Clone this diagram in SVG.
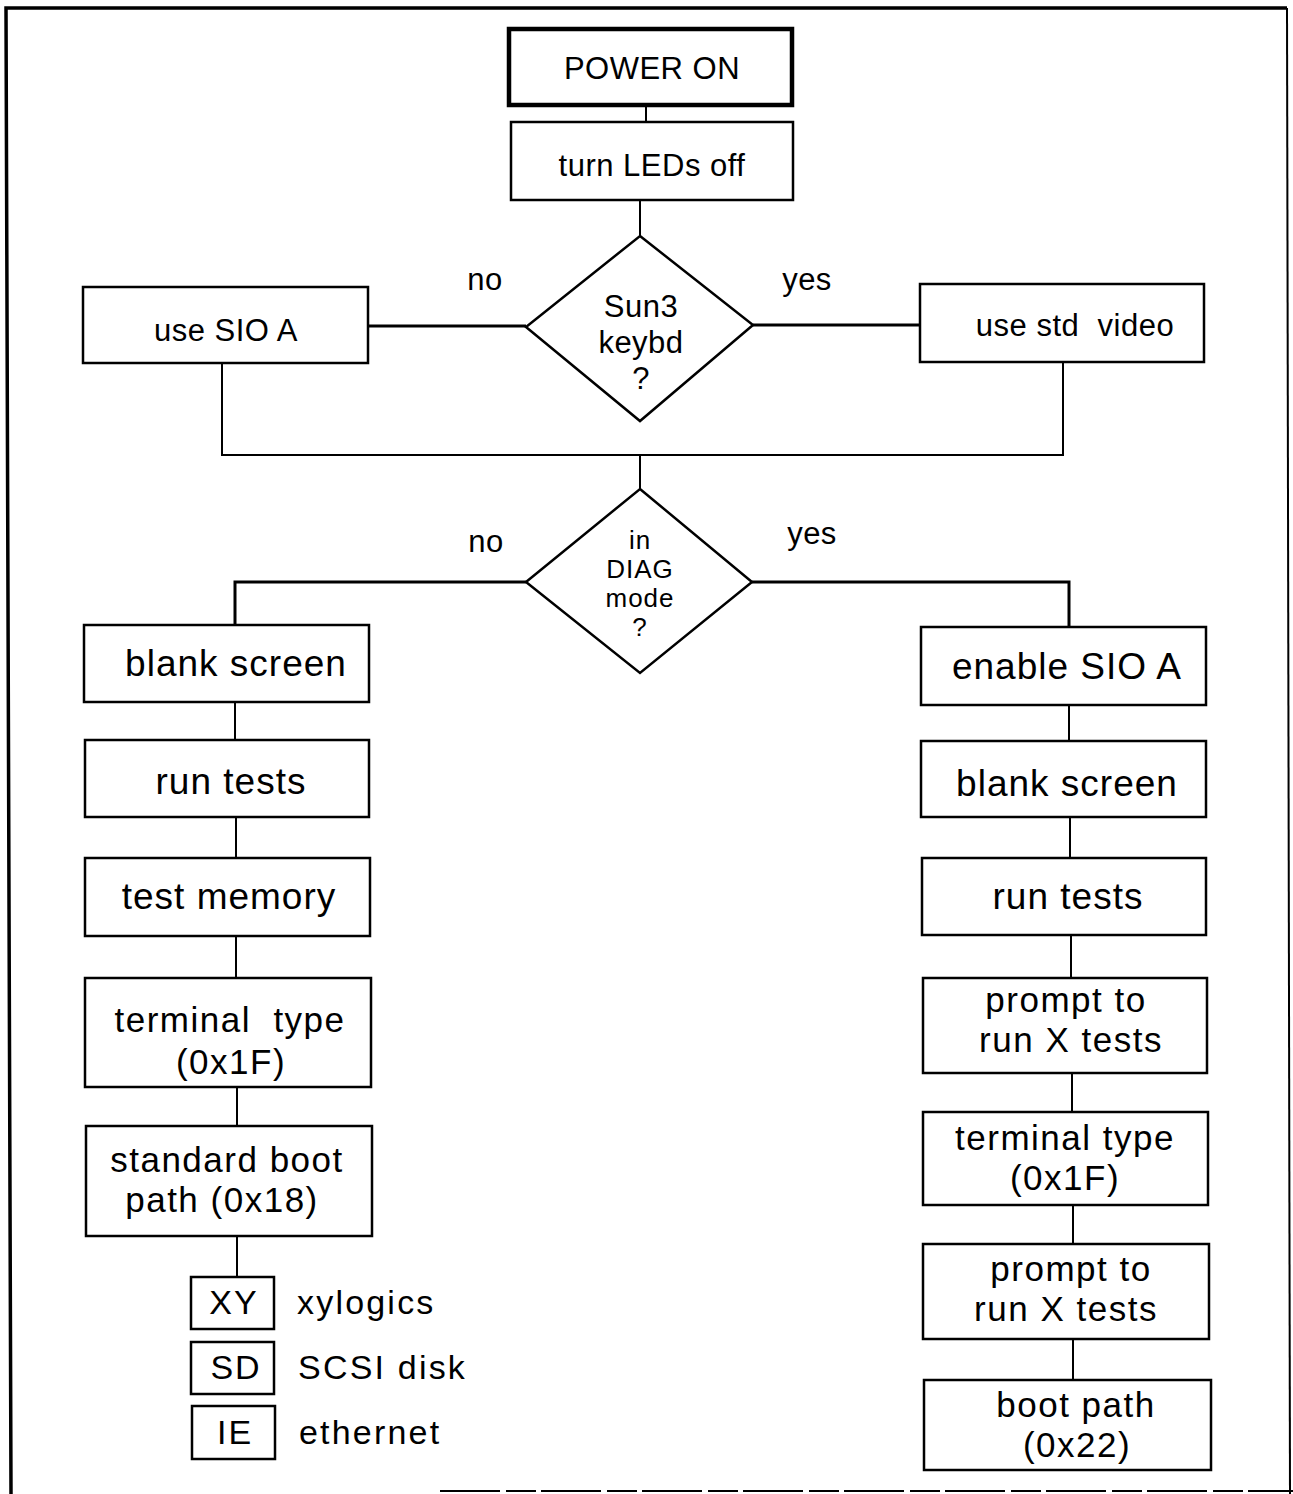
<svg xmlns="http://www.w3.org/2000/svg" width="1293" height="1494" viewBox="0 0 1293 1494">
<style>
  text { font-family: "Liberation Sans", Arial, Helvetica, sans-serif; fill: #000; text-anchor: middle; }
  .box { fill: #fff; stroke: #000; stroke-width: 2.5; }
  .thick { fill: #fff; stroke: #000; stroke-width: 4.5; }
  .dia { fill: #fff; stroke: #000; stroke-width: 2.5; stroke-linejoin: miter; }
  .con { fill: none; stroke: #000; stroke-width: 2; }
  .conb { fill: none; stroke: #000; stroke-width: 3; }
  .t1 { font-size: 31px; letter-spacing: 0.5px; }
  .td { font-size: 26px; letter-spacing: 1px; }
  .t2 { font-size: 37px; letter-spacing: 1px; }
  .tw { font-size: 35px; letter-spacing: 1.5px; }
  .t3 { font-size: 34px; letter-spacing: 2.2px; text-anchor: start; }
  .lg { font-size: 34px; letter-spacing: 2px; }
</style>
<rect width="1293" height="1494" fill="#fff"/>
<g id="frame" fill="none" stroke="#000">
  <path d="M11,1494 L6,8 L1287,8" stroke-width="3.5"/>
  <path d="M1287,8 L1290,1494" stroke-width="2"/>
  <path d="M440,1491 L1293,1491" stroke-width="2" stroke-dasharray="60 6 30 5"/>
</g>
<g id="connectors">
  <path class="con" d="M646,105 V122"/>
  <path class="con" d="M640,200 V236"/>
  <path class="conb" d="M368,326 H526"/>
  <path class="conb" d="M753,325 H920"/>
  <path class="con" d="M222,362 V455 H1063 V362"/>
  <path class="con" d="M640,455 V489"/>
  <path class="conb" d="M526,582 H235 V625"/>
  <path class="conb" d="M752,582 H1069 V628"/>
  <path class="con" d="M235,702 V740"/>
  <path class="con" d="M236,817 V858"/>
  <path class="con" d="M236,936 V978"/>
  <path class="con" d="M237,1087 V1126"/>
  <path class="con" d="M237,1236 V1277"/>
  <path class="con" d="M1069,705 V741"/>
  <path class="con" d="M1070,817 V858"/>
  <path class="con" d="M1071,935 V978"/>
  <path class="con" d="M1072,1073 V1112"/>
  <path class="con" d="M1073,1205 V1244"/>
  <path class="con" d="M1073,1339 V1380"/>
</g>
<g id="power-on">
  <rect class="thick" x="509" y="29" width="283" height="76"/>
  <text class="t1" x="652" y="79">POWER ON</text>
</g>
<g id="turn-leds-off">
  <rect class="box" x="511" y="122" width="282" height="78"/>
  <text class="t1" x="652" y="176">turn LEDs off</text>
</g>
<g id="sun3-keybd">
  <polygon class="dia" points="640,236 753,325 640,421 526,327"/>
  <text class="t1" x="641" y="317">Sun3</text>
  <text class="t1" x="641" y="353">keybd</text>
  <text class="t1" x="641" y="389">?</text>
</g>
<g id="labels-1">
  <text class="t1" x="485" y="290">no</text>
  <text class="t1" x="807" y="290">yes</text>
</g>
<g id="use-sio-a">
  <rect class="box" x="83" y="287" width="285" height="76"/>
  <text class="t1" x="226" y="341">use SIO A</text>
</g>
<g id="use-std-video">
  <rect class="box" x="920" y="284" width="284" height="78"/>
  <text class="t1" x="1075" y="336" xml:space="preserve">use std  video</text>
</g>
<g id="in-diag-mode">
  <polygon class="dia" points="640,489 752,582 640,673 526,582"/>
  <text class="td" x="640" y="549">in</text>
  <text class="td" x="640" y="578">DIAG</text>
  <text class="td" x="640" y="607">mode</text>
  <text class="td" x="640" y="636">?</text>
</g>
<g id="labels-2">
  <text class="t1" x="486" y="552">no</text>
  <text class="t1" x="812" y="544">yes</text>
</g>
<g id="l-blank-screen">
  <rect class="box" x="84" y="625" width="285" height="77"/>
  <text class="t2" x="236" y="676">blank screen</text>
</g>
<g id="l-run-tests">
  <rect class="box" x="85" y="740" width="284" height="77"/>
  <text class="t2" x="231" y="794">run tests</text>
</g>
<g id="l-test-memory">
  <rect class="box" x="85" y="858" width="285" height="78"/>
  <text class="t2" x="229" y="909">test memory</text>
</g>
<g id="l-terminal-type">
  <rect class="box" x="85" y="978" width="286" height="109"/>
  <text class="tw" x="230" y="1032" xml:space="preserve">terminal  type</text>
  <text class="tw" x="231" y="1074">(0x1F)</text>
</g>
<g id="l-standard-boot-path">
  <rect class="box" x="86" y="1126" width="286" height="110"/>
  <text class="tw" x="227" y="1172">standard boot</text>
  <text class="tw" x="222" y="1212">path (0x18)</text>
</g>
<g id="legend-xy">
  <rect class="box" x="191" y="1277" width="83" height="52"/>
  <text class="lg" x="234" y="1314">XY</text>
  <text class="t3" x="297" y="1314">xylogics</text>
</g>
<g id="legend-sd">
  <rect class="box" x="191" y="1342" width="83" height="52"/>
  <text class="lg" x="236" y="1379">SD</text>
  <text class="t3" x="298" y="1379">SCSI disk</text>
</g>
<g id="legend-ie">
  <rect class="box" x="192" y="1406" width="83" height="53"/>
  <text class="lg" x="235" y="1444">IE</text>
  <text class="t3" x="299" y="1444">ethernet</text>
</g>
<g id="r-enable-sio-a">
  <rect class="box" x="921" y="627" width="285" height="78"/>
  <text class="t2" x="1067" y="679">enable SIO A</text>
</g>
<g id="r-blank-screen">
  <rect class="box" x="921" y="741" width="285" height="76"/>
  <text class="t2" x="1067" y="796">blank screen</text>
</g>
<g id="r-run-tests">
  <rect class="box" x="922" y="858" width="284" height="77"/>
  <text class="t2" x="1068" y="909">run tests</text>
</g>
<g id="r-prompt-1">
  <rect class="box" x="923" y="978" width="284" height="95"/>
  <text class="tw" x="1066" y="1012">prompt to</text>
  <text class="tw" x="1071" y="1052">run X tests</text>
</g>
<g id="r-terminal-type">
  <rect class="box" x="923" y="1112" width="285" height="93"/>
  <text class="tw" x="1065" y="1150">terminal type</text>
  <text class="tw" x="1065" y="1190">(0x1F)</text>
</g>
<g id="r-prompt-2">
  <rect class="box" x="923" y="1244" width="286" height="95"/>
  <text class="tw" x="1071" y="1281">prompt to</text>
  <text class="tw" x="1066" y="1321">run X tests</text>
</g>
<g id="r-boot-path">
  <rect class="box" x="924" y="1380" width="287" height="90"/>
  <text class="tw" x="1076" y="1417">boot path</text>
  <text class="tw" x="1077" y="1457">(0x22)</text>
</g>
</svg>
